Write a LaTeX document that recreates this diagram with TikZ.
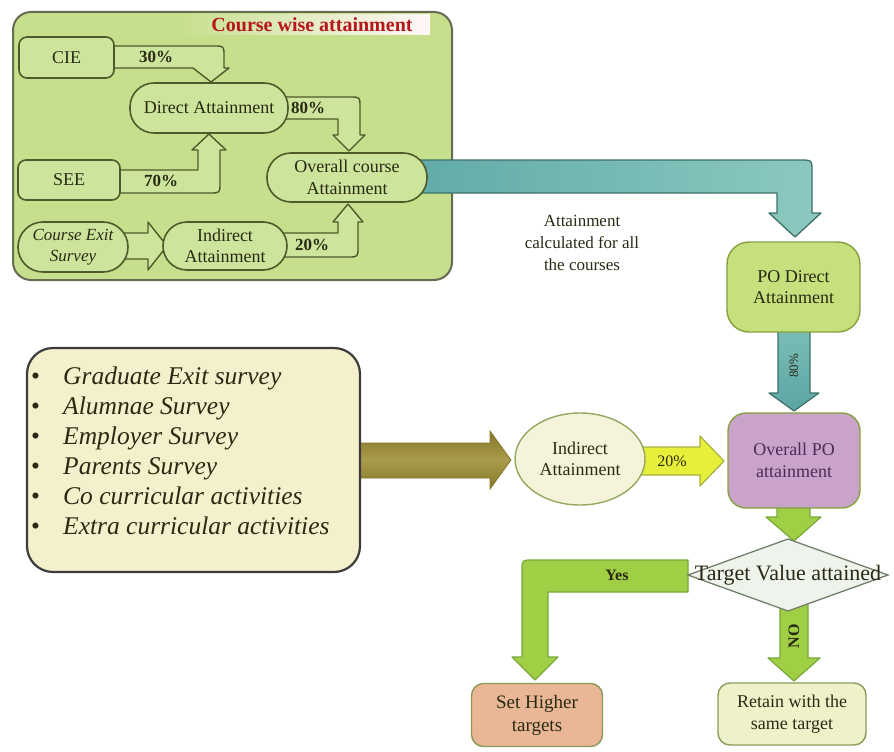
\documentclass[tikz,border=0pt]{standalone}
\usepackage{fontspec}
\setmainfont{Liberation Serif}
\usetikzlibrary{calc,shapes.geometric}

\definecolor{outerfill}{HTML}{C6DF8C}
\definecolor{outerline}{HTML}{666B52}
\definecolor{innerfill}{HTML}{CCE49B}
\definecolor{innerline}{HTML}{4F5A2A}
\definecolor{titlered}{HTML}{B8161C}
\definecolor{tealA}{HTML}{5AA6A4}
\definecolor{tealB}{HTML}{8CC9C0}
\definecolor{tealline}{HTML}{3E7068}
\definecolor{pofill}{HTML}{C5E07C}
\definecolor{poline}{HTML}{86A040}
\definecolor{purplefill}{HTML}{C9A3C9}
\definecolor{purpletext}{HTML}{4E2A58}
\definecolor{greenarrow}{HTML}{A0CF45}
\definecolor{greenline}{HTML}{78A838}
\definecolor{yellowarrow}{HTML}{E6F03A}
\definecolor{yellowline}{HTML}{A8B040}
\definecolor{oliveA}{HTML}{86762A}
\definecolor{oliveB}{HTML}{A99C4A}
\definecolor{creamfill}{HTML}{F5F4DA}
\definecolor{creamline}{HTML}{95A860}
\definecolor{listfill}{HTML}{F4F0CB}
\definecolor{listline}{HTML}{3C3C3C}
\definecolor{diamfill}{HTML}{EEF3EB}
\definecolor{diamline}{HTML}{72806A}
\definecolor{salmonfill}{HTML}{E9B795}
\definecolor{paleline}{HTML}{8A9A58}
\definecolor{retainfill}{HTML}{EFF1C9}
\definecolor{inktext}{HTML}{2A2A14}

\pgfdeclarelayer{back}
\pgfdeclarelayer{arrows}
\pgfsetlayers{back,arrows,main}

\begin{document}
\begin{tikzpicture}[x=1pt,y=-1pt,
  txt/.style={font=\fontsize{18}{21.5}\selectfont, text=inktext, align=center, inner sep=0pt},
  coursebox/.style={txt, draw=innerline, line width=1.6pt, fill=innerfill},
  pct/.style={font=\bfseries\fontsize{17}{19}\selectfont, text=inktext, inner sep=0pt},
  inarrow/.style={draw=innerline, line width=1.4pt, fill=innerfill, line join=round},
  greenblock/.style={draw=greenline, line width=1.2pt, fill=greenarrow, line join=round},
  flowbox/.style={txt, line width=1.4pt, rounded corners=14pt}
]
\useasboundingbox (0,0) rectangle (894,752);

% ---------- course wise attainment panel ----------
\begin{pgfonlayer}{back}
\node[draw=outerline, line width=2pt, fill=outerfill, rounded corners=18pt,
      minimum width=439pt, minimum height=268pt, inner sep=0pt] (panel) at (232.5,146) {};
\shade[left color=outerfill, middle color=white!96!outerfill, right color=white!88!pink] (176,15) rectangle (430,35);
\end{pgfonlayer}
\node[font=\bfseries\fontsize{20}{22}\selectfont, text=titlered, inner sep=0pt] (title) at (312,25) {Course wise attainment};

\node[coursebox, rounded corners=8pt, minimum width=95pt, minimum height=41pt] (cie) at (66.5,57.5) {CIE};
\node[coursebox, rounded corners=24pt, minimum width=158pt, minimum height=50pt] (direct) at (209,108) {Direct Attainment};
\node[coursebox, rounded corners=8pt, minimum width=102pt, minimum height=40pt] (see) at (69,180) {SEE};
\node[coursebox, rounded corners=24pt, minimum width=160pt, minimum height=49pt] (overall) at (347,177.5) {Overall course\\Attainment};
\node[coursebox, rounded corners=25pt, minimum width=110pt, minimum height=50pt,
      font=\itshape\fontsize{17}{21}\selectfont] (exit) at (73,247) {Course Exit\\Survey};
\node[coursebox, rounded corners=24pt, minimum width=124pt, minimum height=48pt] (indirect) at (225,246) {Indirect\\Attainment};

\begin{pgfonlayer}{arrows}
  % CIE -> Direct Attainment
  \path[inarrow] (cie.center |- 0,46) -- (214,46) .. controls (224,46) .. (224,56) -- (224,68)
        -- (229,68) -- (211,82) -- (193,68) -- (cie.center |- 0,68) -- cycle;
  % Direct Attainment -> Overall course Attainment
  \path[inarrow] (direct.center |- 0,97) -- (350,97) .. controls (360,97) .. (360,107) -- (360,135)
        -- (365,135) -- (349,151) -- (333,135) -- (338,135) -- (338,119) -- (direct.center |- 0,119) -- cycle;
  % SEE -> Direct Attainment
  \path[inarrow] (see.center |- 0,193) -- (210,193) .. controls (220,193) .. (220,183) -- (220,150)
        -- (226,150) -- (209,134) -- (192,150) -- (198,150) -- (198,170) -- (see.center |- 0,170) -- cycle;
  % Indirect Attainment -> Overall course Attainment
  \path[inarrow] (indirect.center |- 0,257) -- (348,257) .. controls (358,257) .. (358,247) -- (358,222)
        -- (363,222) -- (348,204) -- (333,222) -- (338,222) -- (338,233) -- (indirect.center |- 0,233) -- cycle;
  % Course Exit Survey -> Indirect Attainment
  \path[inarrow] (exit.center |- 0,233) -- (148,233) -- (148,222) -- (167,246) -- (148,270)
        -- (148,259) -- (exit.center |- 0,259) -- cycle;
\end{pgfonlayer}

\node[pct] (p30) at (156,57) {30\%};
\node[pct] (p80a) at (308,108) {80\%};
\node[pct] (p70) at (161,181) {70\%};
\node[pct] (p20a) at (312,245) {20\%};

% ---------- programme outcome part ----------
\node[txt, font=\fontsize{17}{22}\selectfont] (note) at (582,243) {Attainment\\calculated for all\\the courses};

\node[flowbox, draw=poline, fill=pofill, rounded corners=22pt, minimum width=133pt, minimum height=90pt] (podirect) at (793.5,287) {PO Direct\\Attainment};
\node[flowbox, draw=poline, fill=purplefill, text=purpletext, rounded corners=18pt, minimum width=132pt, minimum height=95pt] (overallpo) at (794,460.5) {Overall PO\\attainment};
\node[txt, draw=creamline, line width=1.4pt, fill=creamfill, ellipse, minimum width=130pt, minimum height=92pt] (indirect2) at (580,459) {Indirect\\Attainment};

\path[draw=diamline, line width=1.3pt, fill=diamfill] (688,575) -- (788,539) -- (888,575) -- (788,611) -- cycle;
\node[txt, font=\fontsize{22}{24}\selectfont] (target) at (788,575) {Target Value attained};

\node[flowbox, draw=paleline, fill=salmonfill, rounded corners=12pt, minimum width=131pt, minimum height=63pt,
      font=\fontsize{19}{23}\selectfont] (higher) at (537,715) {Set Higher\\targets};
\node[flowbox, draw=paleline, fill=retainfill, rounded corners=12pt, minimum width=148pt, minimum height=62pt] (retain) at (792,714) {Retain with the\\same target};

% survey list
\node[draw=listline, line width=2.2pt, fill=listfill, rounded corners=26pt,
      minimum width=333pt, minimum height=224pt, inner sep=0pt] (survey) at (193.5,460) {};
\foreach \t [count=\i] in {Graduate Exit survey, Alumnae Survey, Employer Survey,
                           Parents Survey, Co curricular activities, Extra curricular activities}{
  \node[anchor=base west, inner sep=0pt, font=\fontsize{25.5}{28}\selectfont, text=inktext]
       (li\i) at (31,{354+30*\i}) {\makebox[32pt][l]{\textbullet}\textit{\t}};
}

\begin{pgfonlayer}{arrows}
  % courses -> PO Direct Attainment
  \path[draw=tealline, line width=1.3pt, left color=tealA, right color=tealB, line join=round]
        (overall.center |- 0,160) -- (800,160) .. controls (812,160) .. (812,172) -- (812,213)
        -- (821,213) -- (795,237) -- (769,213) -- (777,213) -- (777,193) -- (overall.center |- 0,193) -- cycle;
  % PO Direct -> Overall PO
  \path[draw=tealline, line width=1.2pt, top color=tealB, bottom color=tealA, line join=round]
        (778,0 |- podirect.center) -- (778,393) -- (769,393) -- (794,411) -- (819,393) -- (810,393)
        -- (810,0 |- podirect.center) -- cycle;
  % survey list -> Indirect Attainment
  \path[top color=oliveA, bottom color=oliveA, middle color=oliveB, draw=oliveA, line width=0.8pt]
        (survey.center |- 0,443) -- (490,443) -- (490,431) -- (511,460) -- (490,489) -- (490,478)
        -- (survey.center |- 0,478) -- cycle;
  % Indirect -> Overall PO
  \path[draw=yellowline, line width=1.2pt, fill=yellowarrow, line join=round]
        (indirect2.center |- 0,447) -- (700,447) -- (700,436) -- (724,461) -- (700,486) -- (700,475)
        -- (indirect2.center |- 0,475) -- cycle;
  % Overall PO -> decision
  \path[greenblock] (777,0 |- overallpo.center) -- (777,517) -- (766,517) -- (794,541) -- (821,517)
        -- (810,517) -- (810,0 |- overallpo.center) -- cycle;
  % decision -> Set Higher targets
  \path[greenblock] (688,560) -- (532,560) .. controls (522,560) .. (522,570) -- (522,657) -- (512,657)
        -- (535,680) -- (558,657) -- (548,657) -- (548,592) -- (688,592) -- cycle;
  % decision -> Retain with the same target
  \path[greenblock] (780,600) -- (780,658) -- (768,658) -- (794,681) -- (820,658) -- (808,658)
        -- (808,600) -- cycle;
\end{pgfonlayer}

\node[pct, font=\fontsize{13}{15}\selectfont, rotate=90] (p80b) at (794,366) {80\%};
\node[pct, font=\fontsize{16}{18}\selectfont] (p20b) at (672,461) {20\%};
\node[pct, font=\bfseries\fontsize{16}{18}\selectfont] (yes) at (617,575) {Yes};
\node[pct, font=\bfseries\fontsize{16}{18}\selectfont, rotate=90] (no) at (794,636) {NO};
\end{tikzpicture}
\end{document}
